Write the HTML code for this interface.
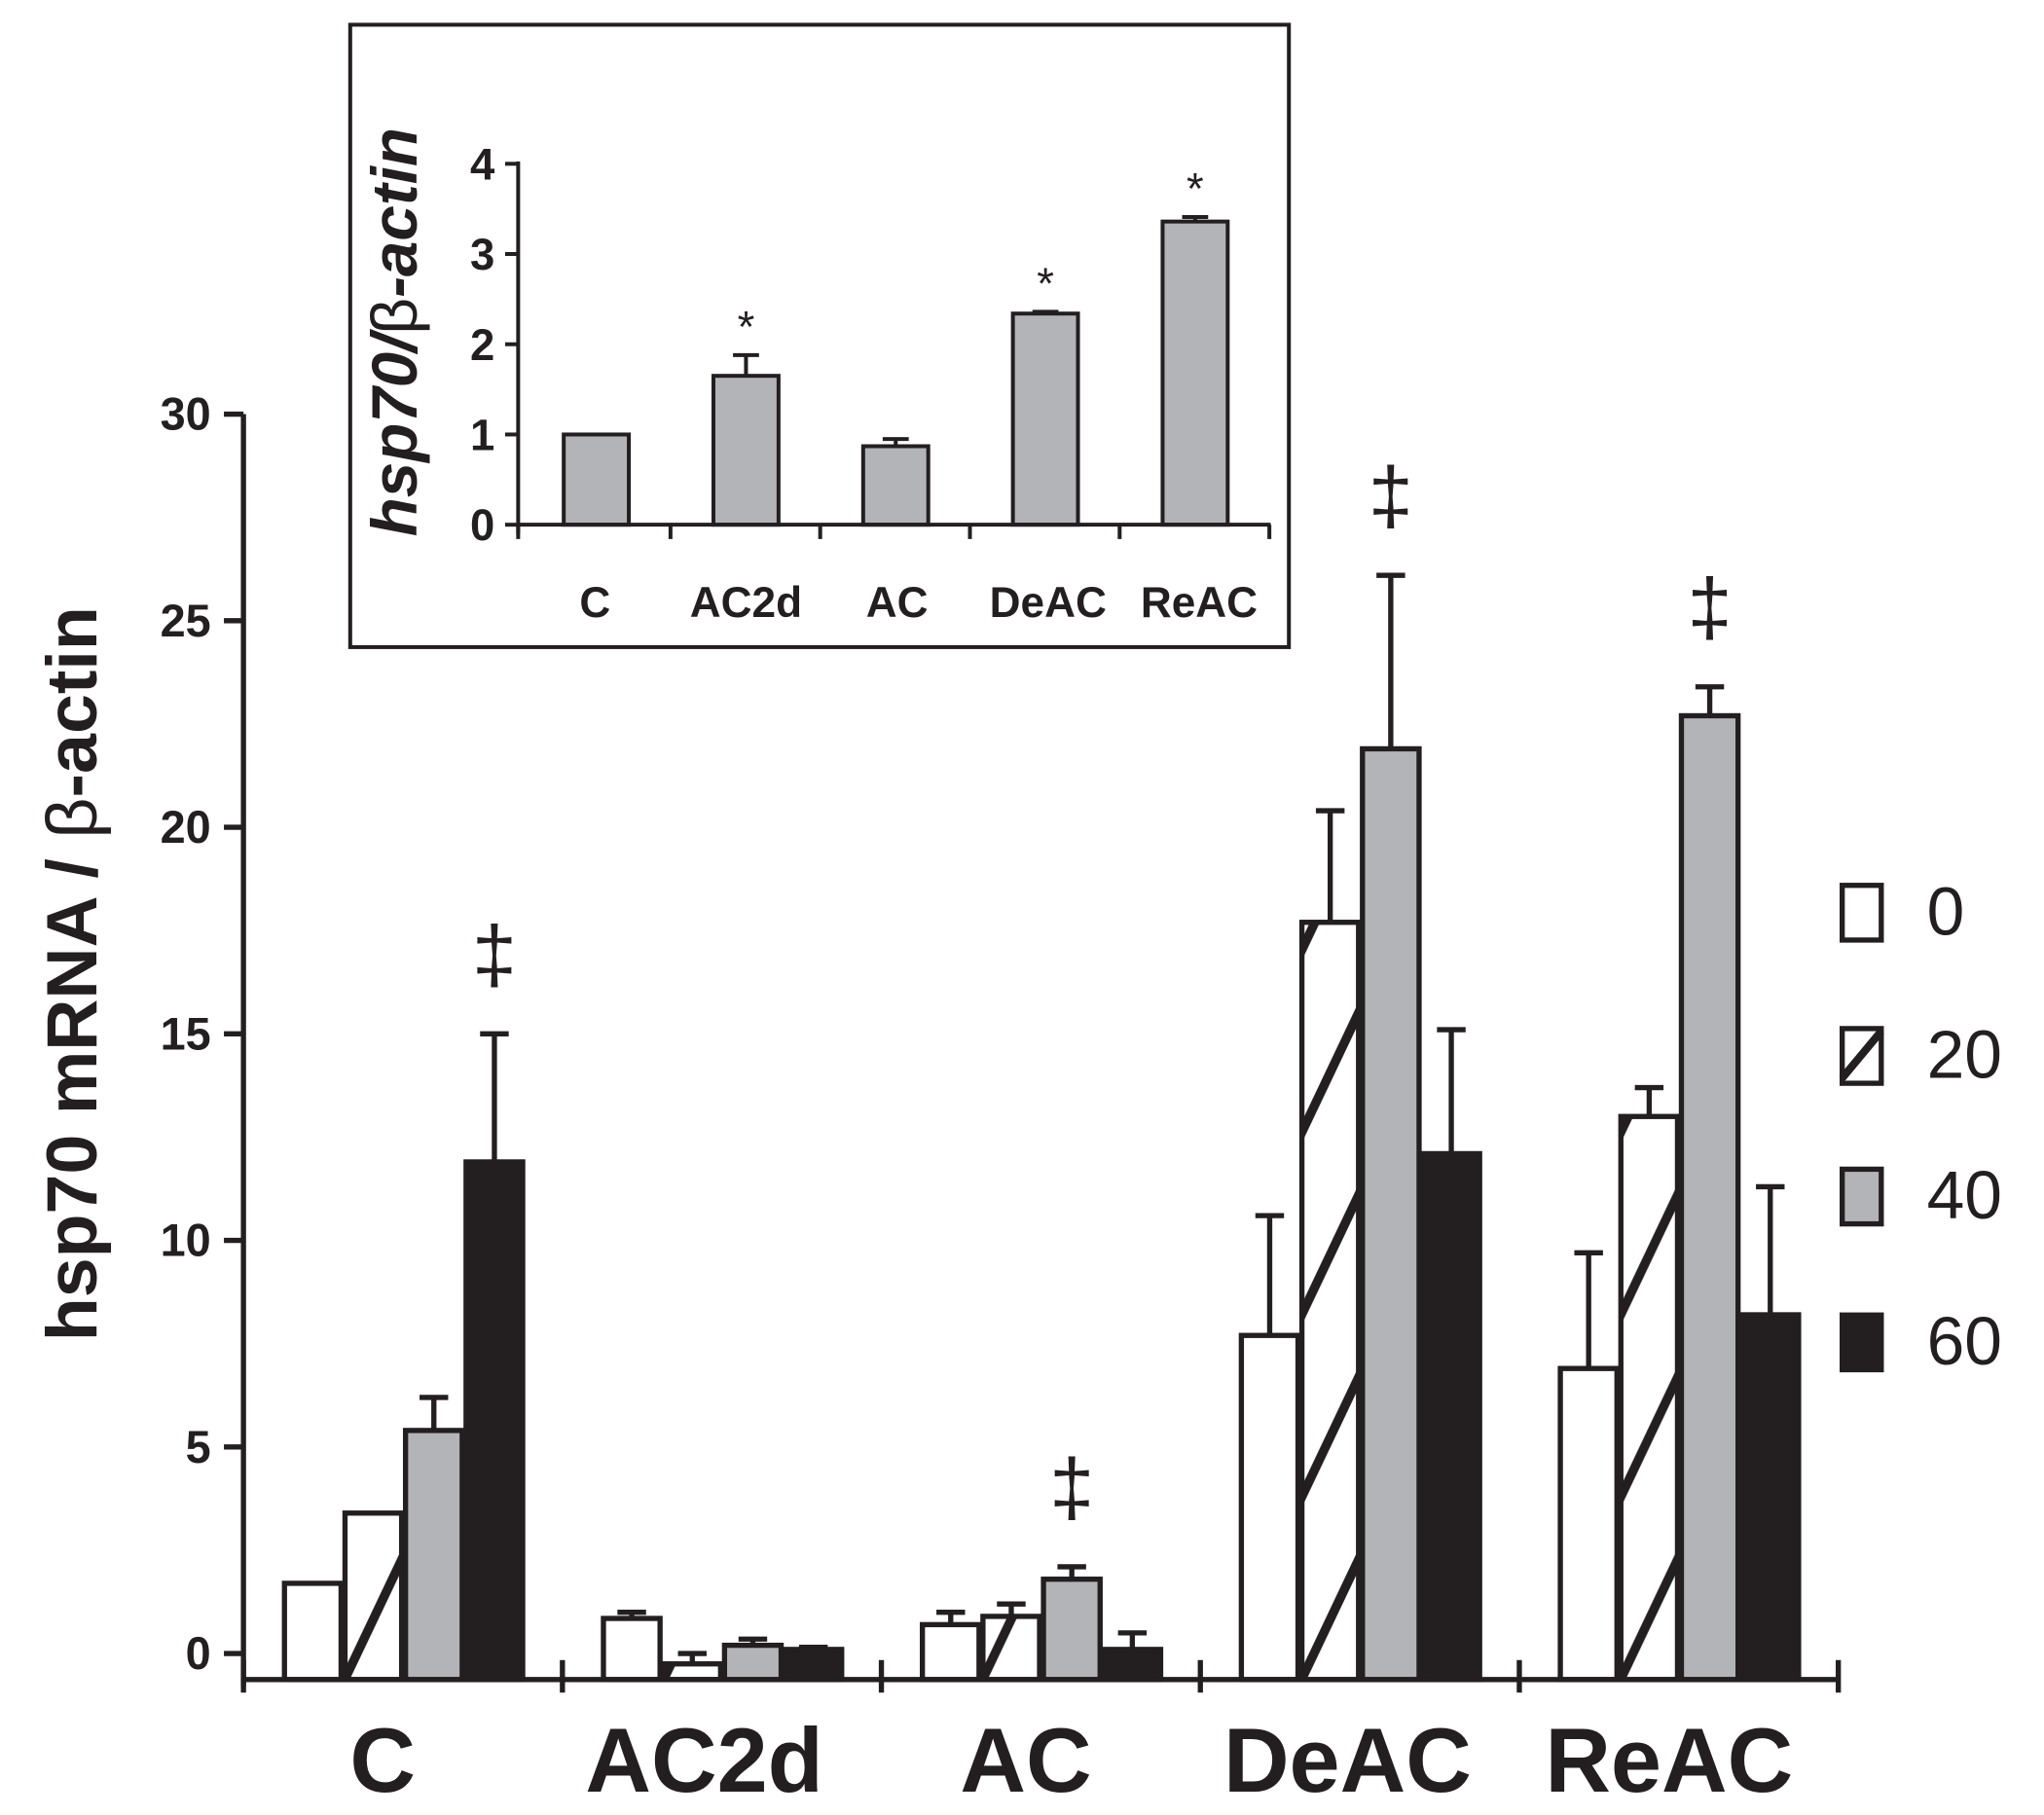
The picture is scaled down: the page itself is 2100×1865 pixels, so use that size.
<!DOCTYPE html>
<html><head><meta charset="utf-8"><style>
html,body{margin:0;padding:0;background:#fff;}
svg{display:block;}
text{font-family:"Liberation Sans",sans-serif;fill:#231f20;}
</style></head><body>
<svg id="chart" width="2100" height="1865" viewBox="0 0 1570 1394" preserveAspectRatio="none" xmlns="http://www.w3.org/2000/svg">
<defs>
<pattern id="hatch" patternUnits="userSpaceOnUse" x="265" y="1290" width="245" height="140">
<line x1="-5" y1="150" x2="52" y2="30" stroke="#231f20" stroke-width="7"/>
<line x1="-5" y1="10" x2="52" y2="-110" stroke="#231f20" stroke-width="7"/>
<line x1="-5" y1="290" x2="52" y2="170" stroke="#231f20" stroke-width="7"/>
</pattern>
</defs>
<g id="main"></g>
<g id="inset"></g>
</svg>
<script>
// Main chart data
const groups = ["C","AC2d","AC","DeAC","ReAC"];
const seriesNames = ["0","20","40","60"];
const vals0  = [1.7, 0.85, 0.7, 7.7, 6.9];
const vals20 = [3.4, -0.25, 0.9, 17.7, 13.0];
const vals40 = [5.4, 0.2, 1.8, 21.9, 22.7];
const vals60 = [11.9, 0.1, 0.1, 12.1, 8.2];
const err0  = [1.7, 1.0, 1.0, 10.6, 9.7];
const err20 = [3.4, 0.0, 1.2, 20.4, 13.7];
const err40 = [6.2, 0.35, 2.1, 26.1, 23.4];
const err60 = [15.0, 0.15, 0.5, 15.1, 11.3];
const yTicks = [0,5,10,15,20,25,30];
const daggerGroups = [[0,3],[2,2],[3,2],[4,2]];
// Inset data
const insetCats = ["C","AC2d","AC","DeAC","ReAC"];
const insetVals = [1.0, 1.65, 0.87, 2.34, 3.36];
const insetErr  = [1.0, 1.88, 0.95, 2.36, 3.41];
const insetTicks = [0,1,2,3,4];
const insetStars = [false,true,false,true,true];

const NS="http://www.w3.org/2000/svg";
function mk(parent,tag,attrs,txt){const e=document.createElementNS(NS,tag);for(const k in attrs)e.setAttribute(k,attrs[k]);if(txt!==undefined)e.textContent=txt;parent.appendChild(e);return e;}
const main=document.getElementById('main');
const y=v=>1270-v*31.73;
const base=1290, bw=46.5;
const barX=(g,s)=>217+245*g+s*bw;
const fills=["#fff","url(#hatch)","#b3b4b7","#231f20"];
const allVals=[vals0,vals20,vals40,vals60], allErr=[err0,err20,err40,err60];

// y axis
let el=mk(main,'line',{x1:187,y1:318,x2:187,y2:1295,stroke:'#231f20','stroke-width':4});


yTicks.forEach(t=>{
  let tk=mk(main,'line',{x1:172,y1:y(t),x2:187,y2:y(t),stroke:'#231f20','stroke-width':4});
  
  
  let tl=mk(main,'text',{x:162,y:y(t)+12,'text-anchor':'end','font-size':35,'font-weight':'bold'},t);
  
  
});
// bars
groups.forEach((g,gi)=>{
  allVals.forEach((sv,si)=>{
    const x=barX(gi,si), v=sv[gi], top=Math.min(y(v),base-3);
    const e=allErr[si][gi];
    if(e>v){
      let eb=mk(main,'line',{x1:x+bw/2,y1:top,x2:x+bw/2,y2:y(e),stroke:'#231f20','stroke-width':4});
      
      
      let cap=mk(main,'line',{x1:x+bw/2-11,y1:y(e),x2:x+bw/2+11,y2:y(e),stroke:'#231f20','stroke-width':4});
      
      
    }
    let r=mk(main,'rect',{x:x+1.5,y:top,width:bw-3,height:base-top,fill:fills[si],stroke:'#231f20','stroke-width':4});
    
    
  });
  let gl=mk(main,'text',{x:294+247*gi,y:1376,'text-anchor':'middle','font-size':70,'font-weight':'bold'},g);
  
  
});
// x axis
el=mk(main,'line',{x1:185,y1:base,x2:1412,y2:base,stroke:'#231f20','stroke-width':4});


for(let i=0;i<=5;i++){
  const tx=187+245*i;
  let t=mk(main,'line',{x1:tx,y1:base-15,x2:tx,y2:base+10,stroke:'#231f20','stroke-width':4});
  
  
}
// daggers
daggerGroups.forEach(([gi,si])=>{
  const x=barX(gi,si)+bw/2; const e=allErr[si][gi];
  let d=mk(main,'text',{x:x,y:y(e)-40,'text-anchor':'middle','font-size':62},'‡');
  
  
});
// y title
el=mk(main,'text',{x:0,y:0,transform:'translate(74,748) rotate(-90)','text-anchor':'middle','font-size':55,'font-weight':'bold'});
el.innerHTML='hsp70 mRNA / <tspan font-weight="normal">β</tspan>-actin';


// legend
const legY=[700,810,918,1030];
seriesNames.forEach((n,i)=>{
  let r=mk(main,'rect',{x:1415,y:legY[i]-20,width:30,height:42,fill:fills[i]==='url(#hatch)'?'#fff':fills[i],stroke:'#231f20','stroke-width':4});
  
  
  if(i==1){let l=mk(main,'line',{x1:1415,y1:legY[i]+18,x2:1445,y2:legY[i]-18,stroke:'#231f20','stroke-width':6});
    
    }
  let t=mk(main,'text',{x:1480,y:legY[i]+18,'font-size':52},n);
  
  
});

// Inset
const ins=document.getElementById('inset');
const iy=v=>403-v*69.3;
el=mk(ins,'rect',{x:269,y:19,width:721,height:478,fill:'#fff',stroke:'#231f20','stroke-width':3});


el=mk(ins,'line',{x1:398,y1:124,x2:398,y2:410,stroke:'#231f20','stroke-width':3});


insetTicks.forEach(t=>{
  let tk=mk(ins,'line',{x1:388,y1:iy(t),x2:398,y2:iy(t),stroke:'#231f20','stroke-width':3});
  
  
  let tl=mk(ins,'text',{x:380,y:iy(t)+12,'text-anchor':'end','font-size':34,'font-weight':'bold'},t);
  
  
});
insetCats.forEach((c,i)=>{
  const x=433+115*i, w=50, top=iy(insetVals[i]);
  if(insetErr[i]>insetVals[i]){
    let eb=mk(ins,'line',{x1:x+w/2,y1:top,x2:x+w/2,y2:iy(insetErr[i]),stroke:'#231f20','stroke-width':3});
    
    
    let cap=mk(ins,'line',{x1:x+w/2-10,y1:iy(insetErr[i]),x2:x+w/2+10,y2:iy(insetErr[i]),stroke:'#231f20','stroke-width':3});
    
    
  }
  let r=mk(ins,'rect',{x:x,y:top,width:w,height:403-top,fill:'#b3b4b7',stroke:'#231f20','stroke-width':3});
  
  
  if(insetStars[i]){
    let s=mk(ins,'text',{x:x+w/2,y:iy(Math.max(insetErr[i],insetVals[i]))-10,'text-anchor':'middle','font-size':34},'*');
    
    
  }
  let l=mk(ins,'text',{x:457+116*i,y:474,'text-anchor':'middle','font-size':33,'font-weight':'bold'},c);
  
  
});
el=mk(ins,'line',{x1:398,y1:403,x2:976,y2:403,stroke:'#231f20','stroke-width':3});


for(let i=0;i<=5;i++){
  const tx=i==0?398:(i==5?975:517+115*(i-1)-2);
  let t=mk(ins,'line',{x1:tx,y1:403,x2:tx,y2:414,stroke:'#231f20','stroke-width':3});
  
  
}
el=mk(ins,'text',{x:0,y:0,transform:'translate(320,255) rotate(-90)','text-anchor':'middle','font-size':49,'font-weight':'bold','font-style':'italic'});
el.innerHTML='hsp70/<tspan font-weight="normal" font-style="normal">β</tspan>-actin';


</script>
</body></html>
